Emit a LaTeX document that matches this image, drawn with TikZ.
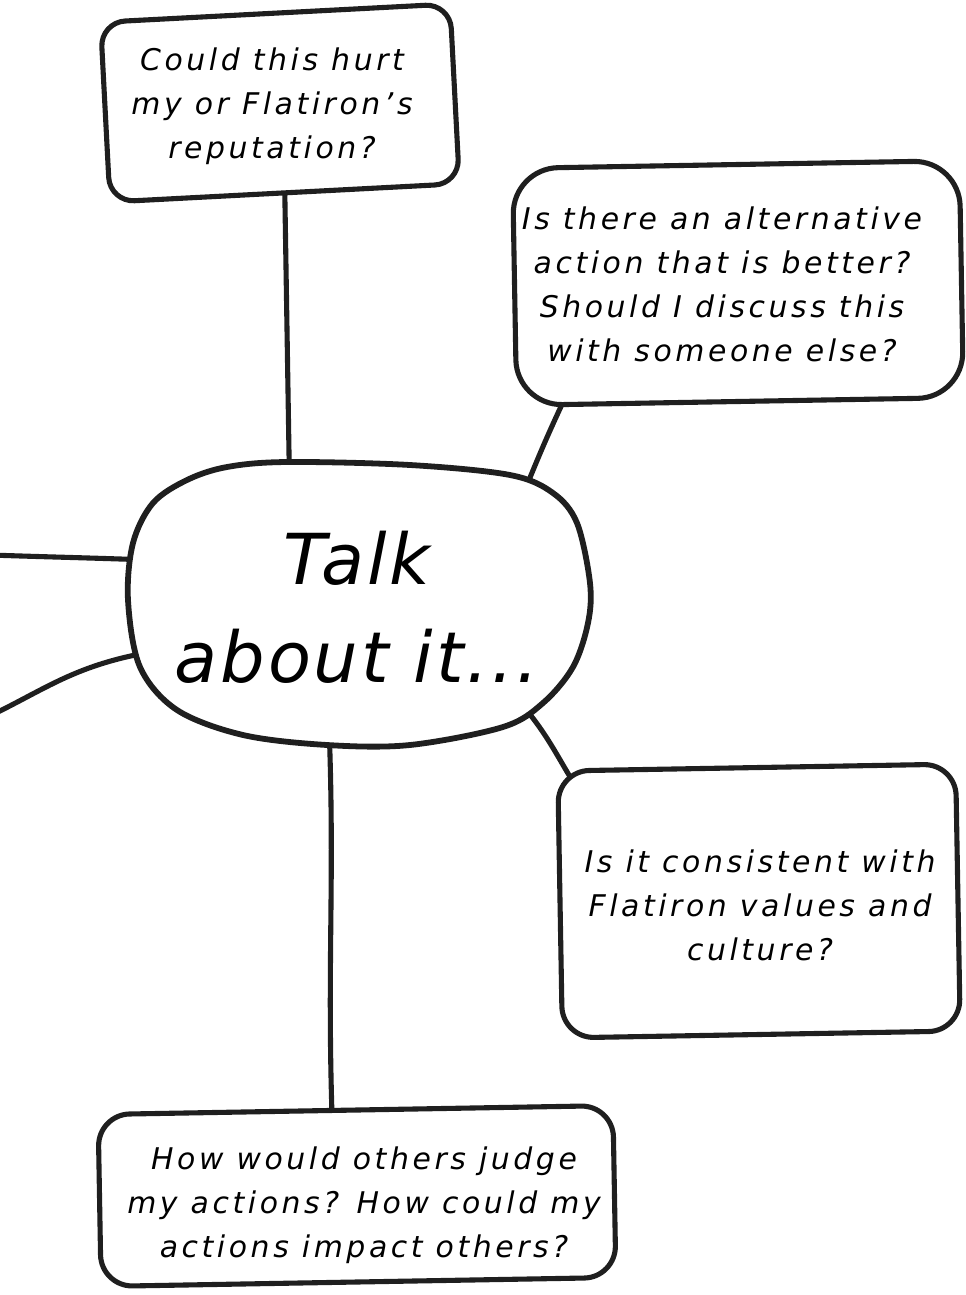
\documentclass[tikz,border=0pt]{standalone}
\usepackage{fontspec}
\setmainfont{DejaVu Sans}
\newfontfamily\handfont{DejaVu Sans}[LetterSpace=12]
\newfontfamily\talkfont{DejaVu Sans}[LetterSpace=4]
\usetikzlibrary{positioning, calc, backgrounds}

\begin{document}
\begin{tikzpicture}[
    x=0.02cm, y=0.02cm,
    frame/.style={draw=black!88, line width=2.9pt, fill=white, inner sep=0pt},
    note/.style={align=center, inner sep=0pt, font=\handfont\itshape\fontsize{17}{25}\selectfont},
    link/.style={draw=black!88, line width=2.9pt, line cap=round, shorten <=-6pt, shorten >=-12pt}
]

\useasboundingbox (0,0) rectangle (966,-1295);

% hand drawn frames, slightly tilted
\node[frame, rounded corners=14pt, rotate=3, minimum width=7cm, minimum height=3.6cm] (q1frame) at (280,-103) {};
\node[frame, rounded corners=26pt, rotate=1, minimum width=8.94cm, minimum height=4.74cm] (q2frame) at (738,-283) {};
\node[frame, rounded corners=18pt, rotate=1, minimum width=7.96cm, minimum height=5.34cm] (q3frame) at (759,-901) {};
\node[frame, rounded corners=18pt, rotate=1, minimum width=10.3cm, minimum height=3.44cm] (q4frame) at (357,-1196) {};

% the central blob: an invisible node for the links, outline drawn by hand
\node[inner sep=0pt, minimum width=9.06cm, minimum height=5.5cm] (talkframe) at (356.5,-607.5) {};
\draw[draw=black!88, line width=3.3pt, fill=white] plot[smooth cycle, tension=0.55] coordinates {
    (287,-462) (410,-465) (510,-475) (553,-493) (577,-523) (590,-583) (588,-623)
    (573,-667) (543,-703) (503,-727) (410,-745) (327,-745) (243,-735) (177,-710)
    (140,-667) (128,-600) (133,-543) (153,-503) (187,-480) (227,-467)};

% texts
\node[note] (q1) at (272,-106) {Could this hurt\\my or Flatiron’s\\reputation?};
\node[note] (q2) at (722,-284) {Is there an alternative\\action that is better?\\Should I discuss this\\with someone else?};
\node[align=center, inner sep=0pt, font=\talkfont\itshape\fontsize{40}{56}\selectfont] (talk) at (357,-607) {Talk\\about it...};
\node[note] (q3) at (760,-905) {Is it consistent with\\Flatiron values and\\culture?};
\node[note] (q4) at (364,-1205) {How would others judge\\my actions? How could my\\actions impact others?};

% branches leaving the picture on the left
\coordinate (left1) at (-10,-555);
\coordinate (left2) at (-10,-716);

\begin{scope}[on background layer]
    \draw[link] (q1frame.south) -- (talkframe.116);
    \draw[link] (q2frame.214) to[out=-115, in=68] ([shift={(-55,-12)}]talkframe.north east);
    \draw[link] (left1) to[out=-2, in=178] (talkframe.168);
    \draw[link] (left2) to[out=25, in=190] (talkframe.192);
    \draw[link] ([shift={(-54,32)}]talkframe.south east) to[out=-50, in=122] ([shift={(18,-14)}]q3frame.north west);
    \draw[link] (talkframe.259) to[out=-88, in=92] (q4frame.105);
\end{scope}

\end{tikzpicture}
\end{document}
